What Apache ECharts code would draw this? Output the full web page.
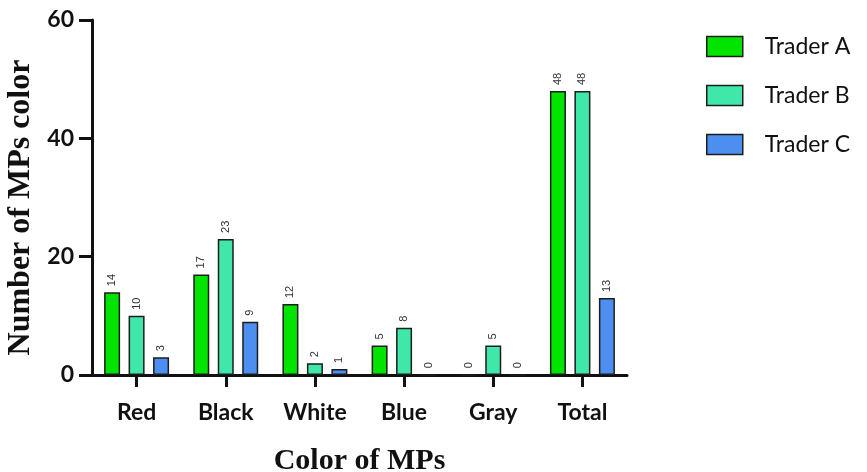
<!DOCTYPE html>
<html><head><meta charset="utf-8">
<script src="https://cdn.jsdelivr.net/npm/echarts@6/dist/echarts.min.js"></script>
<style>html,body{margin:0;padding:0;background:#fff}#c{width:867px;height:472px}</style>
</head><body><div id="c"></div>
<script>
var categories = ['Red', 'Black', 'White', 'Blue', 'Gray', 'Total'];
var traderA = [14, 17, 12, 5, 0, 48];
var traderB = [10, 23, 2, 8, 5, 48];
var traderC = [3, 9, 1, 0, 0, 13];
var seriesNames = ['Trader A', 'Trader B', 'Trader C'];
var yTicks = [0, 20, 40, 60];

var colors = ['#00e400', '#3fe8a8', '#4d8ff0'];
var chart = echarts.init(document.getElementById('c'));
function mk(name, data, color) {
  return {
    name: name, type: 'bar', data: data, barWidth: 16, barGap: '53%',
    itemStyle: { color: color, borderColor: '#1c1c1c', borderWidth: 1.5 },
    label: { show: true, position: 'top', rotate: 90, align: 'left', verticalAlign: 'middle',
      distance: 6, fontSize: 11, color: '#333', fontFamily: 'Liberation Sans' }
  };
}
chart.setOption({
  animation: false,
  legend: {
    orient: 'vertical', left: 701, top: 30, itemWidth: 36, itemHeight: 20, itemGap: 26, icon: 'rect',
    itemStyle: { borderColor: '#1c1c1c', borderWidth: 1.5 },
    textStyle: { fontFamily: 'Lato', fontSize: 23, color: '#111', padding: [0, 0, 0, 17] },
    data: seriesNames
  },
  grid: { left: 92, top: 20, width: 535, height: 355, containLabel: false, outerBoundsMode: 'none' },
  xAxis: {
    type: 'category', data: categories,
    name: 'Color of MPs', nameLocation: 'middle', nameGap: 71,
    nameTextStyle: { fontFamily: 'Liberation Serif', fontWeight: 'bold', fontSize: 30, color: '#111' },
    axisLine: { show: true, lineStyle: { color: '#111', width: 3 } },
    axisTick: { show: true, inside: false, alignWithLabel: true, interval: 0, length: 12, lineStyle: { color: '#111', width: 3 } },
    axisLabel: { fontFamily: 'Lato', fontWeight: 'bold', fontSize: 23, color: '#111', margin: 26 }
  },
  yAxis: {
    type: 'value', min: 0, max: 60, interval: 20,
    name: 'Number of MPs color', nameLocation: 'middle', nameGap: 53, nameRotate: 90,
    nameTextStyle: { fontFamily: 'Liberation Serif', fontWeight: 'bold', fontSize: 32, color: '#111', padding: [0, 20, 0, 0] },
    axisLine: { show: true, lineStyle: { color: '#111', width: 3 } },
    axisTick: { show: true, inside: false, length: 13, lineStyle: { color: '#111', width: 3 } },
    splitLine: { show: false },
    axisLabel: { fontFamily: 'Lato', fontWeight: 'bold', fontSize: 23, color: '#111', margin: 18,
      formatter: function (v) { return yTicks.indexOf(v) >= 0 ? String(v) : ''; } }
  },
  series: [mk(seriesNames[0], traderA, colors[0]), mk(seriesNames[1], traderB, colors[1]), mk(seriesNames[2], traderC, colors[2])]
});
</script></body></html>
